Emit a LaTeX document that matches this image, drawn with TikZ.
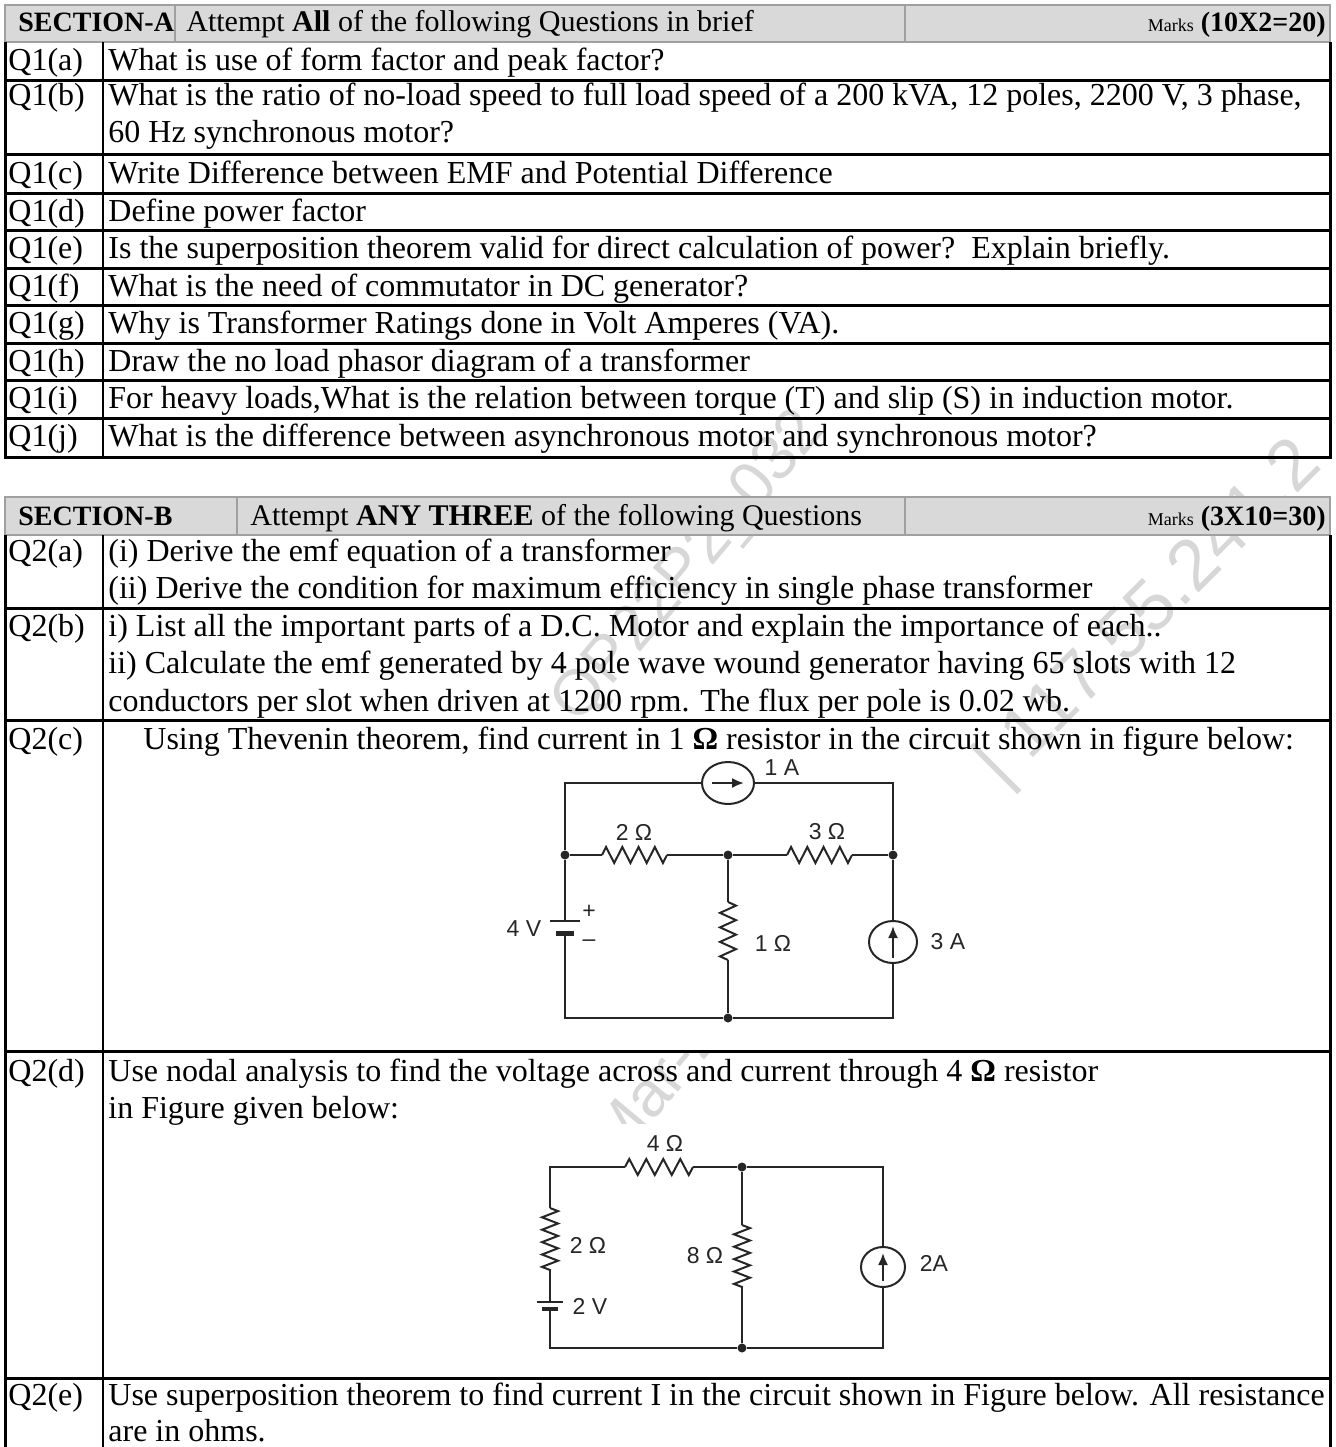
\documentclass[tikz,border=0pt]{standalone}
\usepackage{fontspec}
\setmainfont{Liberation Serif}
\setsansfont{Liberation Sans}
\usetikzlibrary{shapes.geometric,decorations.pathmorphing,arrows.meta}
\definecolor{hdrgray}{RGB}{217,217,217}
\definecolor{hdrline}{RGB}{160,160,160}
\definecolor{wmgray}{RGB}{215,215,215}

\begin{document}
\begin{tikzpicture}[x=0.5pt,y=-0.5pt,
  txt/.style={anchor=base west, inner sep=0pt, font=\fontsize{16}{18.5}\selectfont},
  head/.style={anchor=base west, inner sep=0pt, font=\fontsize{15}{18.5}\selectfont},
  hdr/.style={fill=hdrgray, draw=hdrline, line width=1pt},
  rowline/.style={line width=1.5pt},
  wire/.style={draw=black!85, line width=1pt},
  dot/.style={circle, fill=black!85, inner sep=0pt, minimum size=4.5pt},
  src/.style={ellipse, draw=black!85, line width=1pt, minimum width=24pt, minimum height=21pt, inner sep=0pt},
  res/.style={decorate, decoration={zigzag, amplitude=4pt, segment length=#1}},
  lbl/.style={inner sep=0pt, text=black!85, font=\sffamily\fontsize{11.5}{12}\selectfont},
  wm/.style={inner sep=0pt, text=wmgray, font=\sffamily\fontsize{32}{32}\selectfont}]
\useasboundingbox (0,0) rectangle (1336,1447);

\node (wma) at (690,568) [wm, rotate=50] {QP22P2\_032};
\node (wmb) at (1150,615) [wm, rotate=45, font=\sffamily\fontsize{36}{36}\selectfont] {| 117.55.241.2};
\begin{scope}
\clip (560,1052) rectangle (760,1123);
\node (wmc) at (655,1085) [wm, rotate=50] {Mar-2};
\end{scope}

\filldraw[hdr] (5,5) rectangle (1330,42);
\draw[hdrline, line width=1pt] (175,5) -- (175,42) (905,5) -- (905,42);
\node (seca) at (18,31) [head, font=\fontsize{14}{18.5}\selectfont] {\textbf{SECTION-A}};
\node (atta) at (186,31) [head] {Attempt \textbf{All} of the following Questions in brief};
\node (marka) at (1326,31) [head, anchor=base east, font=\fontsize{14}{18.5}\selectfont] {{\fontsize{9}{9}\selectfont Marks} \textbf{(10X2=20)}};

\draw[rowline] (5,42) -- (5,457) -- (1330,457) -- (1330,42);
\draw[line width=1pt] (103,42) -- (103,457);
\draw[rowline] (5,80) -- (1330,80) (5,154) -- (1330,154) (5,193) -- (1330,193)
  (5,230) -- (1330,230) (5,268) -- (1330,268) (5,305) -- (1330,305)
  (5,343) -- (1330,343) (5,380) -- (1330,380) (5,418) -- (1330,418);

\node (q1a) at (8,70) [txt] {Q1(a)};
\node (t1a) at (108,70) [txt] {What is use of form factor and peak factor?};
\node (q1b) at (8,105) [txt] {Q1(b)};
\node (t1b) at (108,105) [txt] {What is the ratio of no-load speed to full load speed of a 200 kVA, 12 poles, 2200 V, 3 phase,};
\node (u1b) at (108,142) [txt] {60 Hz synchronous motor?};
\node (q1c) at (8,183) [txt] {Q1(c)};
\node (t1c) at (108,183) [txt] {Write Difference between EMF and Potential Difference};
\node (q1d) at (8,221) [txt] {Q1(d)};
\node (t1d) at (108,221) [txt] {Define power factor};
\node (q1e) at (8,258) [txt] {Q1(e)};
\node (t1e) at (108,258) [txt] {Is the superposition theorem valid for direct calculation of power?\ \ Explain briefly.};
\node (q1f) at (8,296) [txt] {Q1(f)};
\node (t1f) at (108,296) [txt] {What is the need of commutator in DC generator?};
\node (q1g) at (8,333) [txt] {Q1(g)};
\node (t1g) at (108,333) [txt] {Why is Transformer Ratings done in Volt Amperes (VA).};
\node (q1h) at (8,371) [txt] {Q1(h)};
\node (t1h) at (108,371) [txt] {Draw the no load phasor diagram of a transformer};
\node (q1i) at (8,408) [txt] {Q1(i)};
\node (t1i) at (108,408) [txt] {For heavy loads,What is the relation between torque (T) and slip (S) in induction motor.};
\node (q1j) at (8,446) [txt] {Q1(j)};
\node (t1j) at (108,446) [txt] {What is the difference between asynchronous motor and synchronous motor?};

\filldraw[hdr] (5,497) rectangle (1330,535);
\draw[hdrline, line width=1pt] (237,497) -- (237,535) (905,497) -- (905,535);
\node (secb) at (18,525) [head, font=\fontsize{14}{18.5}\selectfont] {\textbf{SECTION-B}};
\node (attb) at (250,525) [head] {Attempt \textbf{ANY THREE} of the following Questions};
\node (markb) at (1326,525) [head, anchor=base east, font=\fontsize{14}{18.5}\selectfont] {{\fontsize{9}{9}\selectfont Marks} \textbf{(3X10=30)}};

\draw[rowline] (5,535) -- (5,1460) (1330,535) -- (1330,1460);
\draw[line width=1pt] (103,535) -- (103,1460);
\draw[rowline] (5,608) -- (1330,608) (5,720) -- (1330,720) (5,1051) -- (1330,1051) (5,1378) -- (1330,1378);

\node (q2a) at (8,561) [txt] {Q2(a)};
\node (t2a) at (108,561) [txt] {(i) Derive the emf equation of a transformer};
\node (u2a) at (108,598) [txt] {(ii) Derive the condition for maximum efficiency in single phase transformer};
\node (q2b) at (8,636) [txt] {Q2(b)};
\node (t2b) at (108,636) [txt] {i) List all the important parts of a D.C. Motor and explain the importance of each..};
\node (u2b) at (108,673) [txt] {ii) Calculate the emf generated by 4 pole wave wound generator having 65 slots with 12};
\node (v2b) at (108,711) [txt] {conductors per slot when driven at 1200 rpm. The flux per pole is 0.02 wb.};
\node (q2c) at (8,749) [txt] {Q2(c)};
\node (t2c) at (143,749) [txt] {Using Thevenin theorem, find current in 1 \textbf{Ω} resistor in the circuit shown in figure below:};
\node (q2d) at (8,1081) [txt] {Q2(d)};
\node (t2d) at (108,1081) [txt] {Use nodal analysis to find the voltage across and current through 4 \textbf{Ω} resistor};
\node (u2d) at (108,1118) [txt] {in Figure given below:};
\node (q2e) at (8,1405) [txt] {Q2(e)};
\node (t2e) at (108,1405) [txt] {Use superposition theorem to find current I in the circuit shown in Figure below. All resistance};
\node (u2e) at (108,1441) [txt] {are in ohms.};

\coordinate (ctl) at (565,783);
\coordinate (ctr) at (893,783);
\node (ia) at (728,783) [src, minimum width=26pt] {};
\node (na) at (565,855) [dot] {};
\node (nb) at (728,855) [dot] {};
\node (nc) at (893,855) [dot] {};
\coordinate (cbl) at (565,1018);
\node (nd) at (728,1018) [dot] {};
\coordinate (cbr) at (893,1018);
\coordinate (r2a) at (602,855);
\coordinate (r2b) at (667,855);
\coordinate (r3a) at (787,855);
\coordinate (r3b) at (852,855);
\coordinate (r1a) at (728,902);
\coordinate (r1b) at (728,960);
\coordinate (bp) at (565,921);
\coordinate (bn) at (565,933);
\node (ib) at (893,942) [src] {};

\draw[wire] (na) -- (ctl) -- (ia) -- (ctr) -- (nc);
\draw[wire] (na) -- (r2a);
\draw[wire, res=8.125pt] (r2a) -- (r2b);
\draw[wire] (r2b) -- (nb) -- (r3a);
\draw[wire, res=8.125pt] (r3a) -- (r3b);
\draw[wire] (r3b) -- (nc) -- (ib) -- (cbr) -- (nd) -- (cbl) -- (bn);
\draw[wire] (nb) -- (r1a);
\draw[wire, res=7.25pt] (r1a) -- (r1b);
\draw[wire] (r1b) -- (nd);
\draw[wire] (na) -- (bp);
\draw[wire] ([xshift=-7.5pt]bp) -- ([xshift=7.5pt]bp);
\draw[black!85, line width=2.5pt] ([xshift=-4.5pt]bn) -- ([xshift=4.5pt]bn);
\draw[wire, -{Latex[length=6pt,width=5pt]}] ([xshift=-8pt]ia.center) -- ([xshift=8pt]ia.center);
\draw[wire, -{Latex[length=6pt,width=5pt]}] ([yshift=-8pt]ib.center) -- ([yshift=8pt]ib.center);
\node (la) at (782,768) [lbl] {1 A};
\node (lb) at (634,832) [lbl] {2 Ω};
\node (lc) at (827,832) [lbl] {3 Ω};
\node (ld) at (773,943) [lbl] {1 Ω};
\node (le) at (948,942) [lbl] {3 A};
\node (lf) at (524,929) [lbl] {4 V};
\node (lg) at (589,912) [lbl] {+};
\node (lh) at (589,943) [lbl] {–};

\coordinate (dtl) at (550,1167);
\node (ne) at (742,1167) [dot] {};
\coordinate (dtr) at (883,1167);
\coordinate (dbl) at (550,1348);
\node (nf) at (742,1348) [dot] {};
\coordinate (dbr) at (883,1348);
\coordinate (r4a) at (625,1167);
\coordinate (r4b) at (693,1167);
\coordinate (r5a) at (550,1208);
\coordinate (r5b) at (550,1270);
\coordinate (bp2) at (550,1302);
\coordinate (bn2) at (550,1309);
\coordinate (r8a) at (742,1225);
\coordinate (r8b) at (742,1287);
\node (ic) at (883,1267) [src, minimum width=22pt, minimum height=20pt] {};

\draw[wire] (r5a) -- (dtl) -- (r4a);
\draw[wire, res=8.5pt] (r4a) -- (r4b);
\draw[wire] (r4b) -- (ne) -- (dtr) -- (ic) -- (dbr) -- (nf) -- (dbl) -- (bn2);
\draw[wire, res=6.2pt] (r5a) -- (r5b);
\draw[wire] (r5b) -- (bp2);
\draw[wire] (ne) -- (r8a);
\draw[wire, res=6.2pt] (r8a) -- (r8b);
\draw[wire] (r8b) -- (nf);
\draw[wire] ([xshift=-6.5pt]bp2) -- ([xshift=6.5pt]bp2);
\draw[black!85, line width=2pt] ([xshift=-4pt]bn2) -- ([xshift=4pt]bn2);
\draw[wire, -{Latex[length=6pt,width=5pt]}] ([yshift=-7pt]ic.center) -- ([yshift=7pt]ic.center);
\node (lk) at (665,1143) [lbl] {4 Ω};
\node (ll) at (588,1245) [lbl] {2 Ω};
\node (lm) at (590,1306) [lbl] {2 V};
\node (ln) at (705,1256) [lbl] {8 Ω};
\node (lo) at (934,1263) [lbl] {2A};
\end{tikzpicture}
\end{document}
